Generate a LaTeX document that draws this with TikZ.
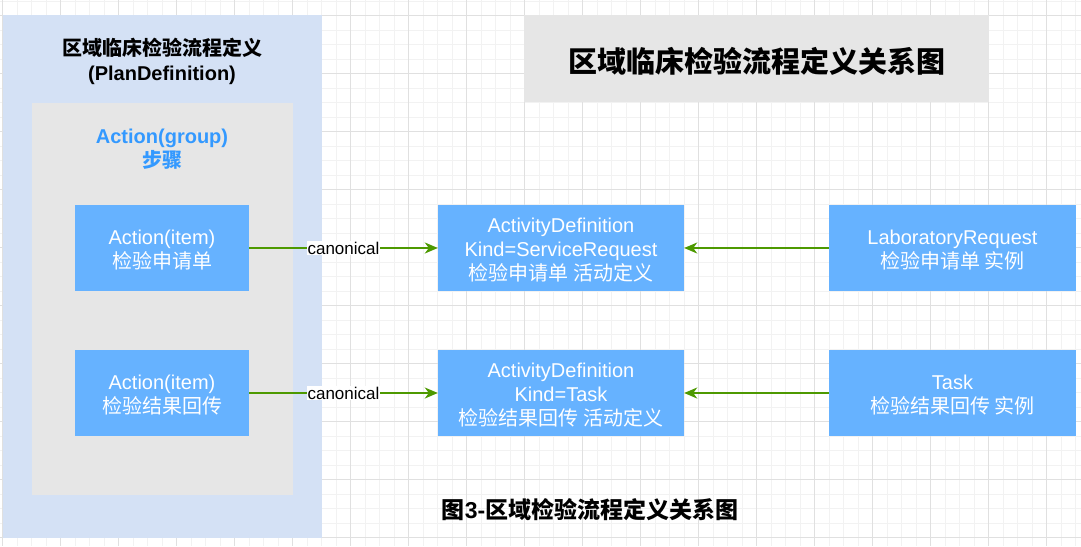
\documentclass[tikz,border=0pt]{standalone}
\usepackage{fontspec}
\setmainfont{Liberation Sans}
\newfontfamily\cjk{Noto Sans CJK SC}
\usetikzlibrary{arrows.meta}
\definecolor{outerblue}{HTML}{D4E1F5}
\definecolor{innergray}{HTML}{E6E6E6}
\definecolor{boxblue}{HTML}{66B2FF}
\definecolor{grouptext}{HTML}{3399FF}
\definecolor{arrowgreen}{HTML}{4D9900}
\definecolor{gridmajor}{HTML}{E0E0E0}
\definecolor{gridminor}{HTML}{F2F2F2}
\newcommand\zh[1]{{\cjk #1}}
\tikzset{
  bluebox/.style={rectangle, fill=boxblue, draw=none, inner sep=0pt},
  boxtext/.style={text=white, align=center, inner sep=0pt, font=\fontsize{20}{24}\selectfont},
  graybox/.style={rectangle, fill=innergray, draw=none, inner sep=0pt},
  arr/.style={draw=arrowgreen, line width=1.8pt, -{Stealth[length=13pt,width=11pt,inset=4pt]}},
  lbl/.style={fill=white, text=black, inner sep=1pt, font=\fontsize{17}{20}\selectfont},
  minorline/.style={draw=gridminor, line width=0.8pt},
  majorline/.style={draw=gridmajor, line width=1pt}
}
\begin{document}
\begin{tikzpicture}[x=1pt,y=-1pt]
\useasboundingbox (0,0) rectangle (1081,546);
\fill[white] (0,0) rectangle (1081,546);
% grid
\foreach \i in {0,...,74} {
  \draw[minorline] ({2.7+14.5*\i},0) -- ({2.7+14.5*\i},546);
}
\foreach \i in {0,...,37} {
  \draw[minorline] (0,{1.2+14.5*\i}) -- (1081,{1.2+14.5*\i});
}
\foreach \i in {0,...,18} {
  \draw[majorline] ({2.7+58*\i},0) -- ({2.7+58*\i},546);
}
\foreach \i in {0,...,9} {
  \draw[majorline] (0,{15.7+58*\i}) -- (1081,{15.7+58*\i});
}
% containers
\node[rectangle, fill=outerblue, inner sep=0pt, minimum width=319pt, minimum height=522.5pt] (plan) at (162.2,276.25) {};
\node[graybox, minimum width=261pt, minimum height=391.5pt] (group) at (162.5,298.75) {};
\node[align=center, font=\fontsize{20}{25}\selectfont\bfseries] (plantitle) at (162,61.5) {\zh{区域临床检验流程定义}\\(PlanDefinition)};
\node[align=center, text=grouptext, font=\fontsize{20}{24}\selectfont\bfseries] (grouptitle) at (162,149) {Action(group)\\\zh{步骤}};
% title box
\node[graybox, minimum width=465pt, minimum height=87pt] (title) at (756.5,58.5) {};
\node[font=\fontsize{29}{33}\selectfont\bfseries] (titletext) at ([yshift=-2.5pt]title.center) {\zh{区域临床检验流程定义关系图}};
% boxes
\node[bluebox, minimum width=174pt, minimum height=86pt] (ai1) at (162,248) {};
\node[bluebox, minimum width=174pt, minimum height=86pt] (ai2) at (162,393) {};
\node[bluebox, minimum width=246pt, minimum height=86pt] (ad1) at (561,248) {};
\node[bluebox, minimum width=246pt, minimum height=86pt] (ad2) at (561,393) {};
\node[bluebox, minimum width=247pt, minimum height=86pt] (lr) at (952.5,248) {};
\node[bluebox, minimum width=247pt, minimum height=86pt] (task) at (952.5,393) {};
\node[boxtext] (ai1t) at ([yshift=-2.5pt]ai1.center) {Action(item)\\\zh{检验申请单}};
\node[boxtext] (ai2t) at ([yshift=-2.5pt]ai2.center) {Action(item)\\\zh{检验结果回传}};
\node[boxtext] (ad1t) at ([yshift=-2.5pt]ad1.center) {ActivityDefinition\\Kind=ServiceRequest\\\zh{检验申请单 活动定义}};
\node[boxtext] (ad2t) at ([yshift=-2.5pt]ad2.center) {ActivityDefinition\\Kind=Task\\\zh{检验结果回传 活动定义}};
\node[boxtext] (lrt) at ([yshift=-2.5pt]lr.center) {LaboratoryRequest\\\zh{检验申请单 实例}};
\node[boxtext] (taskt) at ([yshift=-2.5pt]task.center) {Task\\\zh{检验结果回传 实例}};
% connectors
\draw[arr] (ai1.east) -- node[lbl] {canonical} (ad1.west);
\draw[arr] (ai2.east) -- node[lbl] {canonical} (ad2.west);
\draw[arr] (lr.west) -- (ad1.east);
\draw[arr] (task.west) -- (ad2.east);
% caption
\node[font=\fontsize{23}{26}\selectfont\bfseries] (caption) at (590,510) {\zh{图}3-\zh{区域检验流程定义关系图}};
\end{tikzpicture}
\end{document}
